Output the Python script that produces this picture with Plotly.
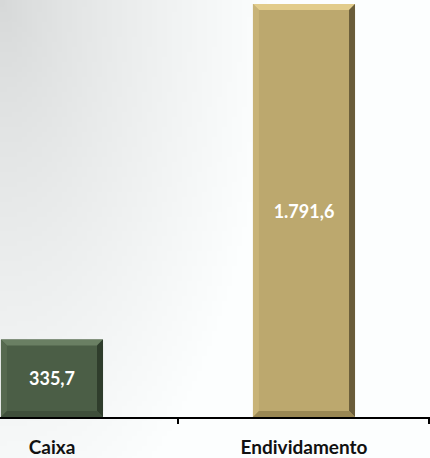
import zlib, struct, base64, math
import plotly.graph_objects as go

categories = ["Caixa", "Endividamento"]
values = [335.7, 1791.6]
bar_colors = ["#4b5e46", "#bca86e"]
light_colors = ["#6a7f63", "#e2cc8b"]
dark_colors = ["#2f3d2c", "#6a5d3a"]
side_light = ["#56694f", "#c8b377"]
bottom_dark = ["#3f4f3b", "#9a8854"]

W, H = 430, 458
Y_MAX = 1809
X_RANGE = [-0.2063, 1.5]
BAR_W = 0.405

# background gradient image (styling only)
def make_png(w, h):
    rows = []
    for j in range(h):
        row = bytearray([0])
        for i in range(w):
            x = i / (w - 1) * W
            y = j / (h - 1) * H
            d = math.sqrt((x / 270) ** 2 + (y / 560) ** 2)
            t = min(1.0, d) ** 0.8
            v = int(round(216 + (254 - 216) * t))
            row += bytes([v - 2, v, v])
        rows.append(bytes(row))
    raw = b"".join(rows)
    def chunk(tag, data):
        c = struct.pack(">I", len(data)) + tag + data
        return c + struct.pack(">I", zlib.crc32(tag + data) & 0xffffffff)
    png = b"\x89PNG\r\n\x1a\n"
    png += chunk(b"IHDR", struct.pack(">IIBBBBB", w, h, 8, 2, 0, 0, 0))
    png += chunk(b"IDAT", zlib.compress(raw, 9))
    png += chunk(b"IEND", b"")
    return "data:image/png;base64," + base64.b64encode(png).decode()

bg = make_png(86, 92)

fig = go.Figure()
fig.add_trace(go.Bar(
    x=list(range(len(categories))), y=values,
    width=BAR_W,
    marker=dict(color=bar_colors, line=dict(width=0)),
    texttemplate="%{y:,.1f}", textposition="inside", insidetextanchor="middle",
    textfont=dict(family="Lato", size=18, color="white", weight="bold"),
    hoverinfo="skip",
))

# bevel shapes derived from data
px_x = 430 / (X_RANGE[1] - X_RANGE[0])
px_y = 417 / Y_MAX
bx = 6 / px_x
by = 6 / px_y
shapes = []
for i, v in enumerate(values):
    x0, x1 = i - BAR_W / 2, i + BAR_W / 2
    shapes.append(dict(type="path", xref="x", yref="y", layer="above", line=dict(width=0),
        fillcolor=light_colors[i],
        path=f"M{x0},{v} L{x1},{v} L{x1-bx},{v-by} L{x0+bx},{v-by} Z"))
    shapes.append(dict(type="path", xref="x", yref="y", layer="above", line=dict(width=0),
        fillcolor=dark_colors[i],
        path=f"M{x1},{v} L{x1},0 L{x1-bx},{by} L{x1-bx},{v-by} Z"))
    shapes.append(dict(type="path", xref="x", yref="y", layer="above", line=dict(width=0),
        fillcolor=side_light[i],
        path=f"M{x0},{v} L{x0+bx},{v-by} L{x0+bx},{by} L{x0},0 Z"))
    shapes.append(dict(type="path", xref="x", yref="y", layer="above", line=dict(width=0),
        fillcolor=bottom_dark[i],
        path=f"M{x0},0 L{x0+bx},{by} L{x1-bx},{by} L{x1},0 Z"))

fig.add_trace(go.Scatter(x=[0.5, 1.5], y=[0, 0], mode="markers", xaxis="x2",
                         marker=dict(opacity=0), hoverinfo="skip"))

fig.update_layout(
    width=W, height=H,
    margin=dict(l=0, r=0, t=0, b=41, pad=0, autoexpand=False),
    paper_bgcolor="white", plot_bgcolor="rgba(0,0,0,0)",
    separators=",.",
    showlegend=False,
    shapes=shapes,
    images=[dict(source=bg, xref="paper", yref="paper", x=0, y=1, sizex=1,
                 sizey=1 + 41 / 417, xanchor="left", yanchor="top",
                 sizing="stretch", layer="below")],
    xaxis=dict(
        range=X_RANGE, tickmode="array", tickvals=[0, 1], ticktext=categories,
        showgrid=False, zeroline=False, showline=True, linecolor="black", linewidth=2,
        ticks="", tickfont=dict(family="Lato", size=19, color="#111", weight="bold"),
        ticklabelstandoff=12, automargin=False,
    ),
    xaxis2=dict(overlaying="x", side="bottom", range=X_RANGE,
                tickmode="array", tickvals=[0.5, 1.497], ticktext=["", ""],
                ticks="outside", ticklen=6, tickwidth=1.5, tickcolor="black",
                showgrid=False, zeroline=False, showline=False, automargin=False),
    yaxis=dict(range=[0, Y_MAX], visible=False, showgrid=False, zeroline=False),
)
fig.write_html("out.html", config={"displayModeBar": False},
               post_script="document.body.style.margin='0';document.body.style.overflow='hidden';")
